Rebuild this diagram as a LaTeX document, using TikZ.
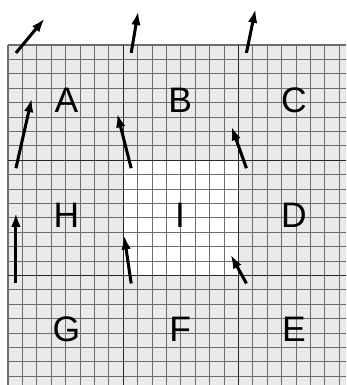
\documentclass[tikz,border=0pt]{standalone}
\usepackage{fontspec}
\setmainfont{Liberation Sans}
\usetikzlibrary{arrows.meta}

\begin{document}
\begin{tikzpicture}[x=.4cm,y=.4cm]

\def\W{23.47}; \def\Ht{23.6}; \def\n{8};

\definecolor{paper}{RGB}{234,234,234};
\definecolor{fineline}{RGB}{110,110,110};
\definecolor{coarseline}{RGB}{40,40,40};

\tikzset{flow/.style={line width=2.4pt,-{Latex[length=11pt,width=7.5pt]}}};
\tikzset{cell/.style={font=\fontsize{28}{30}\selectfont}};

\useasboundingbox (-.556,3.125) rectangle (\W,-\Ht);

\fill[paper] (0,0) rectangle (\W,-\Ht);
\fill[white] (\n,-\n) rectangle (2*\n,-2*\n);

\foreach \i in {0,...,23}{
\draw[fineline,line width=.85pt] (\i,0)--(\i,-\Ht);
\draw[fineline,line width=.85pt] (0,-\i)--(\W,-\i);
}
\foreach \i in {1,2}{
\draw[coarseline,line width=1.1pt] (\i*\n,0)--(\i*\n,-\Ht);
\draw[coarseline,line width=1.1pt] (0,-\i*\n)--(\W,-\i*\n);
}

% region letters
\node[cell] (A) at (4.05,-3.85) {A};
\node[cell] (B) at (11.95,-3.85) {B};
\node[cell] (C) at (19.85,-3.85) {C};
\node[cell] (H) at (4.05,-11.8) {H};
\node[cell] (I) at (11.95,-11.8) {I};
\node[cell] (D) at (19.85,-11.8) {D};
\node[cell] (G) at (4.05,-19.7) {G};
\node[cell] (F) at (11.95,-19.7) {F};
\node[cell] (E) at (19.85,-19.7) {E};

% one arrow at every corner of the coarse grid
\foreach \i/\j/\dx/\dy in {0/0/2.0/2.4, 1/0/.49/2.9, 2/0/.63/3.06,
0/1/1.1/4.86, 1/1/-.97/3.8, 2/1/-1.04/2.9,
0/2/0/4.9, 1/2/-.49/3.33, 2/2/-1.1/2.0}{
\draw[flow] (\i*\n+.55,-\j*\n-.55)--++(\dx,\dy);
}

\end{tikzpicture}
\end{document}
